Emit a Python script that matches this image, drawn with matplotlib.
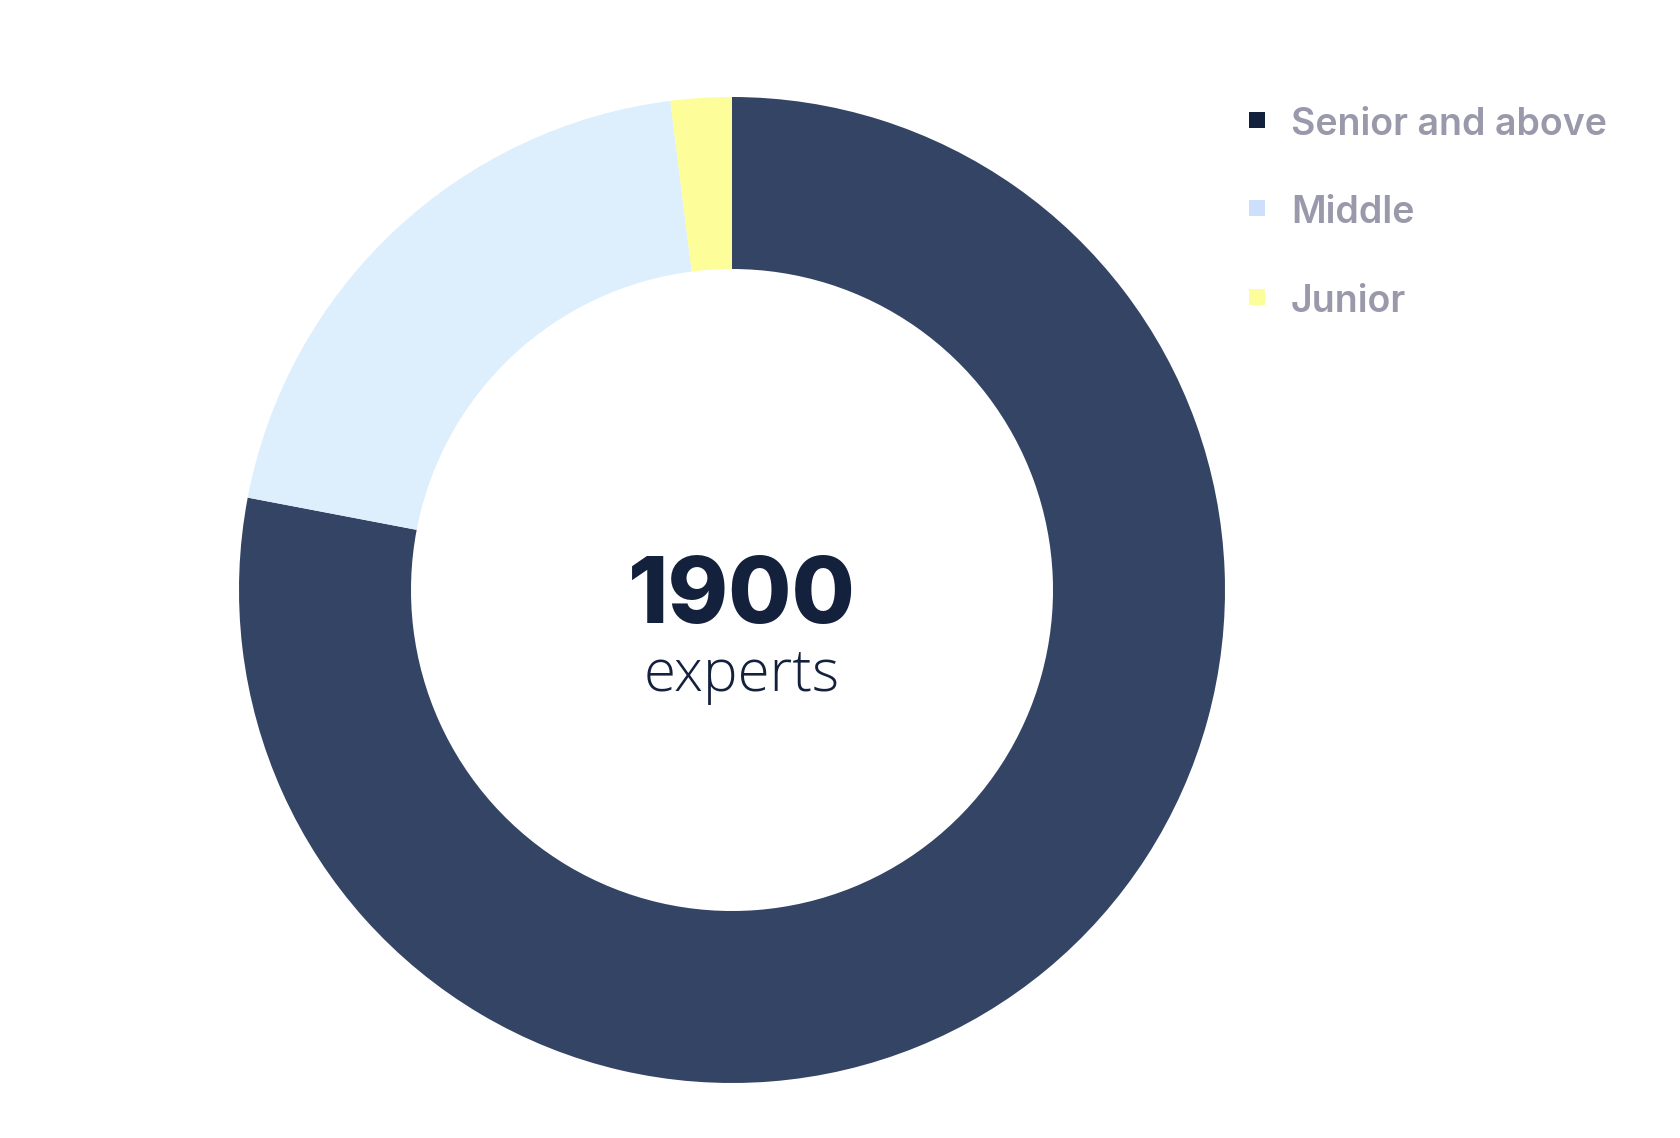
import matplotlib
matplotlib.use('Agg')
import matplotlib.pyplot as plt
from matplotlib.patches import Rectangle

labels = ['Senior and above', 'Middle', 'Junior']
shares = [78, 20, 2]
wedge_colors = ['#344465', '#DDEEFD', '#FDFD99']
legend_colors = ['#14213D', '#CCE0FB', '#FDFD99']
total = '1900'
total_label = 'experts'

W, H = 1680, 1138
fig = plt.figure(figsize=(W / 100, H / 100), dpi=100)
ax = fig.add_axes([0, 0, 1, 1])
ax.set_xlim(0, W)
ax.set_ylim(0, H)
ax.set_aspect('equal')
ax.axis('off')

# donut, pixel coords (y up)
cx, cy = 732, H - 590
r_out = 493
ax.pie(shares, colors=wedge_colors, startangle=90, counterclock=False,
       center=(cx, cy), radius=r_out,
       wedgeprops=dict(width=172, linewidth=0))
ax.set_xlim(0, W)
ax.set_ylim(0, H)

ax.text(cx + 10, cy - 9, total, ha='center', va='center', fontsize=66,
        fontweight='heavy', family='Inter', color='#14213D')
ax.text(cx + 10, H - 691, total_label, ha='center', va='baseline', fontsize=42,
        fontweight='light', family='Open Sans', color='#14213D')

# legend
ys = [120, 208, 297]
for lab, col, y in zip(labels, legend_colors, ys):
    ax.add_patch(Rectangle((1249, H - y - 8), 16, 16, facecolor=col, edgecolor='none'))
    ax.text(1291, H - y - 5, lab, ha='left', va='center', fontsize=27,
            fontweight='semibold', family='Inter', color='#9A99AB')

fig.savefig('out.png', dpi=100)
